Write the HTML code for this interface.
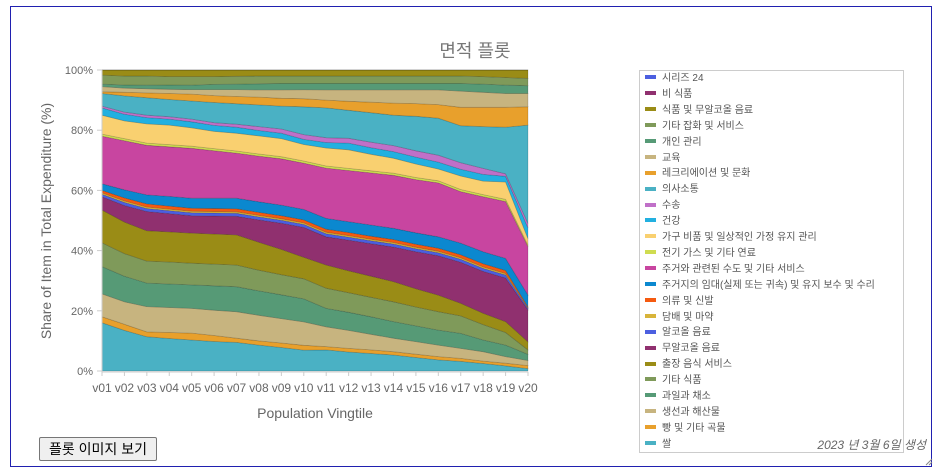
<!DOCTYPE html>
<html><head><meta charset="utf-8">
<style>
html,body{margin:0;padding:0;background:#fff;width:944px;height:471px;overflow:hidden;font-family:"Liberation Sans","Noto Sans CJK KR",sans-serif;}
#frame{position:absolute;left:10px;top:6px;width:922px;height:461px;border:1px solid #2020b0;box-sizing:border-box;}
#btn{position:absolute;left:39px;top:437px;width:118px;height:24px;border:1px solid #767676;border-radius:2px;background:#efefef;font-size:14px;color:#000;font-family:"Liberation Sans","Noto Sans CJK KR",sans-serif;padding:0;}
#date{position:absolute;right:18px;top:436px;font-size:12px;font-style:italic;color:#666;}
#legend{position:absolute;left:639px;top:70px;width:265px;height:383px;border:1px solid #ccc;box-sizing:border-box;}
.li{position:absolute;left:5px;font-size:10px;color:#555;height:14px;line-height:14px;white-space:nowrap;}
.sw{display:inline-block;width:11px;height:4px;margin-right:6px;vertical-align:middle;position:relative;top:-1px;}
</style></head><body>
<div id="frame"></div>
<svg id="chart" width="944" height="471" style="position:absolute;left:0;top:0"></svg>
<div id="legend"></div>
<button id="btn">플롯 이미지 보기</button>
<div id="date">2023 년 3월 6일 생성</div>
<svg width="8" height="8" style="position:absolute;left:925px;top:458px"><path d="M1 7L7 1M4 7L7 4" stroke="#888" stroke-width="1"/></svg>
<script>
const categories=["v01","v02","v03","v04","v05","v06","v07","v08","v09","v10","v11","v12","v13","v14","v15","v16","v17","v18","v19","v20"];
const yTicks=[0,20,40,60,80,100];
const yTickLabels=["0%","20%","40%","60%","80%","100%"];
// series bottom to top
const sRice=[16,13.5,11.4,10.8,10.3,9.8,9.5,8.6,7.8,7,7,6.3,5.8,5.3,4.5,3.7,3.2,2.5,1.7,0.8];
const sBread=[2,2,1.6,2,2.3,2,1.4,1.4,1.5,1.6,1.1,1.2,1.2,1.1,1.1,1.1,1,0.8,0.9,1];
const sFish=[7.6,7.5,8.4,8.3,8.2,8.4,8.8,8.5,8.1,7.8,6.6,6,5.2,4.5,4.2,3.8,3.3,3.1,2.2,1.7];
const sVeg=[9.1,8.5,7.8,7.8,7.8,8.1,8.3,8.1,7.9,7.7,6.1,6,5.8,5.5,5.2,5,5,3.9,3.8,2];
const sOtherFood=[7.9,7.5,7.3,7.3,7.2,7.2,7.2,6.9,6.7,6.7,6.7,6.5,6.5,6.6,6.3,6.1,5.8,5.1,4.2,1.5];
const sCatering=[10.9,10.5,10.1,10,10,10,10,9.3,8.4,7.2,7.7,7.3,7,6.7,6.1,5.5,4.2,3.8,3.6,2.7];
const sSoftDrink=[4.4,5.5,6.4,6.1,5.8,6,6.2,7.4,8.7,10,9.4,10.2,10.8,11.5,12.3,13.1,13.6,13.9,14.5,10.6];
const sAlcohol=[0.8,1,1,1,1,1,1,1,1,1,1,1,1,1,1,1,1,1,1,0.5];
const sTobacco=[0.5,0.5,0.5,0.5,0.5,0.5,0.5,0.5,0.5,0.5,0.5,0.5,0.5,0.5,0.5,0.5,0.5,0.5,0.5,0.2];
const sClothing=[0.8,1,1,1,1,1,1,1,1,1,1,1,1,1,1,1,1,1,1,0.3];
const sRent=[2.2,2.7,3,3.2,3.3,3.4,3.5,3.5,3.5,3.5,3.6,3.6,3.7,3.7,3.8,3.8,3.9,4,4,3.9];
const sWater=[15.8,16.3,16.5,16.5,16.6,15.8,15,15.2,15.4,15.5,16.7,17,17.3,17.6,17.7,17.9,17.1,18.3,18.9,16.1];
const sElectric=[0.7,0.7,0.7,0.7,0.7,0.7,0.7,0.7,0.7,0.7,0.7,0.7,0.7,0.7,0.7,0.7,0.7,0.7,0.7,0.5];
const sFurnish=[6.3,5.9,6.4,6.5,6.1,5.7,5.9,6,6,5.5,6,6.2,5.5,5,4.5,3.9,4.5,4.5,5.8,2.2];
const sHealth=[2.4,2.2,2.1,2,2,2,2,1.8,1.8,1.7,1.8,2.2,2.2,2.2,2.3,2.3,2.2,2.2,1.9,3.5];
const sTransport=[0.6,0.7,0.8,0.8,0.9,0.9,1,1.3,1.4,1.6,1.6,1.6,1.8,2,2.1,2.3,2.2,2,0.8,1.5];
const sComm=[4.2,5.4,5.8,5.7,6,6.7,6.8,7.2,7.6,9.3,9.9,9.3,9.8,10.1,11.5,12.3,12.3,13.9,15.5,32.7];
const sRecreation=[0.6,1.2,1.6,2,2.3,2.3,2.4,2.6,2.6,2.7,2.6,3,3.5,4,4.2,4.5,6.1,6.4,6.6,6.1];
const sEducation=[1.7,1.4,1.4,1.4,1.5,2,2.3,2.4,2.8,3,3.4,3.8,4.1,4.4,4.6,4.9,5.4,5,4.6,4.4];
const sPersonal=[0.8,1,1.2,1.4,1.5,1.7,1.8,2,2.1,2.1,2.1,2.1,2.1,2.1,2.1,2.1,2.5,2.7,2.8,2.6];
const sMisc=[3,3,3,2.8,2.8,2.6,2.6,2.6,2.5,2.5,2.5,2.5,2.5,2.5,2.5,2.5,2.5,2.5,2.5,2.4];
const sFoodTotal=[1.7,2,2,2.2,2.2,2.2,2.1,2,2,2,2,2,2,2,2,2,2,2.2,2.5,2.8];
const sNonFood=[0,0,0,0,0,0,0,0,0,0,0,0,0,0,0,0,0,0,0,0];
const sSeries24=[0,0,0,0,0,0,0,0,0,0,0,0,0,0,0,0,0,0,0,0];
const seriesNames=["쌀","빵 및 기타 곡물","생선과 해산물","과일과 채소","기타 식품","출장 음식 서비스","무알코올 음료","알코올 음료","담배 및 마약","의류 및 신발","주거지의 임대(실제 또는 귀속) 및 유지 보수 및 수리","주거와 관련된 수도 및 기타 서비스","전기 가스 및 기타 연료","가구 비품 및 일상적인 가정 유지 관리","건강","수송","의사소통","레크리에이션 및 문화","교육","개인 관리","기타 잡화 및 서비스","식품 및 무알코올 음료","비 식품","시리즈 24"];
const seriesValues=[sRice,sBread,sFish,sVeg,sOtherFood,sCatering,sSoftDrink,sAlcohol,sTobacco,sClothing,sRent,sWater,sElectric,sFurnish,sHealth,sTransport,sComm,sRecreation,sEducation,sPersonal,sMisc,sFoodTotal,sNonFood,sSeries24];
const colors=["#4ab1c4","#e8a02c","#c7b47f","#569a76","#7f9a5a","#9a8c16","#90306f","#4c5fe0","#d8b43a","#f55a10","#0b88cf","#c845a0","#cfdc50","#f9d070","#22b0e0","#c070c8","#4ab1c4","#e8a02c","#c7b47f","#569a76","#7f9a5a","#9a8c16","#90306f","#4c5fe0"];

const NS="http://www.w3.org/2000/svg";
const svg=document.getElementById('chart');
const X0=102,X1=528,Y0=371,Y1=70;
const xScale=i=>X0+(X1-X0)*i/(categories.length-1);
const yScale=v=>Y0-(Y0-Y1)*v/100;
function mk(tag,attrs){const e=document.createElementNS(NS,tag);for(const k in attrs)e.setAttribute(k,attrs[k]);return e;}

const totals=categories.map((c,i)=>seriesValues.reduce((a,s)=>a+s[i],0));
let base=categories.map(()=>0);
const areaG=mk('g',{});


svg.appendChild(areaG);
seriesValues.forEach((s,k)=>{
  const top=base.map((b,i)=>b+s[i]/totals[i]*100);
  let d="";
  top.forEach((v,i)=>{d+=(i?"L":"M")+xScale(i).toFixed(1)+" "+yScale(v).toFixed(1);});
  for(let i=base.length-1;i>=0;i--)d+="L"+xScale(i).toFixed(1)+" "+yScale(base[i]).toFixed(1);
  d+="Z";
  const p=mk('path',{d:d,fill:colors[k],stroke:"rgba(0,0,0,0.18)","stroke-width":"0.8"});
  
  
  areaG.appendChild(p);
  base=top;
});
const yAxis=mk('line',{x1:X0,y1:Y1,x2:X0,y2:Y0+1,stroke:"#ccc"});


svg.appendChild(yAxis);
const xAxis=mk('line',{x1:X0,y1:Y0+1,x2:X1,y2:Y0+1,stroke:"#ccc"});


svg.appendChild(xAxis);
yTicks.forEach((t,i)=>{
  const y=yScale(t);
  svg.appendChild(mk('line',{x1:X0-5,y1:y,x2:X0,y2:y,stroke:"#ccc"}));
  const tx=mk('text',{x:X0-9,y:y+4,"text-anchor":"end","font-size":"11",fill:"#666","font-family":"Liberation Sans, sans-serif"});
  tx.textContent=yTickLabels[i];
  
  
  svg.appendChild(tx);
});
categories.forEach((c,i)=>{
  const x=xScale(i);
  svg.appendChild(mk('line',{x1:x,y1:Y0+1,x2:x,y2:Y0+5,stroke:"#ccc"}));
  const tx=mk('text',{x:x,y:Y0+21,"text-anchor":"middle","font-size":"12",fill:"#666","font-family":"Liberation Sans, sans-serif"});
  tx.textContent=c;
  
  
  svg.appendChild(tx);
});
const title=mk('text',{x:475,y:57,"text-anchor":"middle","font-size":"18",fill:"#777","font-family":"Liberation Sans, Noto Sans CJK KR, sans-serif"});
title.textContent="면적 플롯";


svg.appendChild(title);
const xt=mk('text',{x:315,y:418,"text-anchor":"middle","font-size":"14",fill:"#666","font-family":"Liberation Sans, sans-serif"});
xt.textContent="Population Vingtile";


svg.appendChild(xt);
const yt=mk('text',{x:0,y:0,"text-anchor":"middle","font-size":"14",fill:"#666","font-family":"Liberation Sans, sans-serif",transform:"translate(51,221) rotate(-90)"});
yt.textContent="Share of Item in Total Expenditure (%)";


svg.appendChild(yt);
const lg=document.getElementById('legend');
for(let j=0;j<seriesNames.length;j++){
  const k=seriesNames.length-1-j;
  const it=document.createElement('div');
  it.className='li';
  it.style.top=(1+j*15.9)+'px';
  
  
  const sw=document.createElement('span');
  sw.className='sw';sw.style.background=colors[k];
  it.appendChild(sw);
  it.appendChild(document.createTextNode(seriesNames[k]));
  lg.appendChild(it);
}
</script>
</body></html>
